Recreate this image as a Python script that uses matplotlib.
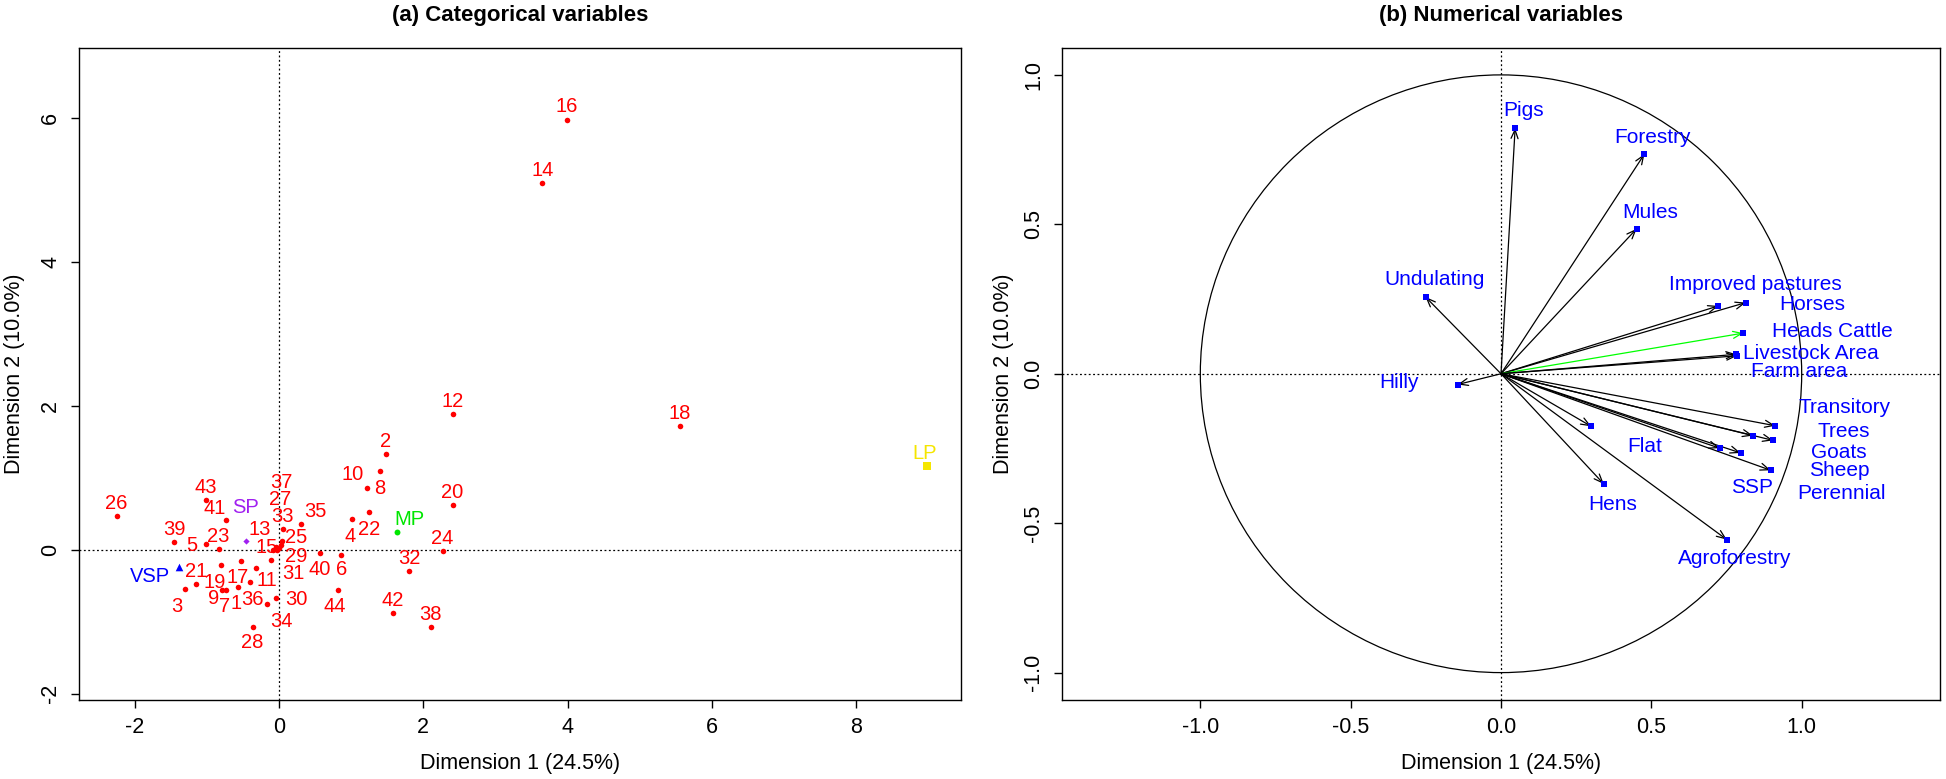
import matplotlib
matplotlib.use("Agg")
import matplotlib.pyplot as plt
from matplotlib.patches import Circle

plt.rcParams["font.family"] = ["Liberation Sans", "DejaVu Sans"]

# ---- (a) individuals (farms) on dims 1-2 ----
ind_labels = [str(i) for i in range(1, 45)]
ind_x = [-0.572, 1.48, -1.298, 1.007, -1.015, 0.854, -0.738, 1.214, -0.794, 1.399,
         -0.323, 2.41, -0.088, 3.65, -0.046, 3.99, -0.526, 5.554, -0.803, 2.406,
         -1.150, 1.251, -0.835, 2.267, 0.023, -2.248, 0.037, -0.365, -0.032, -0.046,
         -0.111, 1.805, 0.051, -0.166, 0.309, -0.402, 0.0, 2.101, -1.454, 0.568,
         -0.738, 1.574, -1.015, 0.821]
ind_y = [-0.518, 1.33, -0.546, 0.426, 0.074, -0.079, -0.565, 0.856, -0.556, 1.088,
         -0.255, 1.88, 0.0, 5.09, 0.037, 5.97, -0.157, 1.713, -0.213, 0.616,
         -0.481, 0.523, 0.009, -0.018, 0.069, 0.463, 0.125, -1.074, 0.0, -0.667,
         -0.148, -0.301, 0.282, -0.759, 0.356, -0.454, 0.023, -1.074, 0.107, -0.051,
         0.407, -0.880, 0.685, -0.565]

# supplementary categories
sup_labels = ["VSP", "SP", "MP", "LP"]
sup_x = [-1.381, -0.457, 1.630, 8.975]
sup_y = [-0.241, 0.125, 0.245, 1.158]
sup_colors = ["#0000FF", "#A020F0", "#00E600", "#F5E600"]
sup_markers = ["^", "D", "o", "s"]
sup_sizes = [30, 10, 18, 26]

# ---- (b) numerical variables (correlation circle) ----
num_labels = ["Pigs", "Forestry", "Mules", "Undulating", "Hilly", "Improved pastures",
              "Horses", "Heads Cattle", "Livestock Area", "Farm area", "Transitory",
              "Trees", "Goats", "Sheep", "Perennial", "SSP", "Flat", "Hens", "Agroforestry"]
num_x = [0.047, 0.477, 0.451, -0.251, -0.144, 0.723, 0.814, 0.806, 0.783, 0.785,
         0.912, 0.905, 0.838, 0.797, 0.897, 0.727, 0.300, 0.342, 0.751]
num_y = [0.822, 0.735, 0.485, 0.257, -0.036, 0.227, 0.238, 0.136, 0.065, 0.060,
         -0.174, -0.223, -0.207, -0.265, -0.323, -0.249, -0.176, -0.369, -0.555]

# label placement offsets in pixels (x right, y down), like autoLab did
ind_off = {"1": (-2, 16), "3": (-8, 17), "4": (-1, 17), "5": (-14, 1), "6": (1, 14),
           "7": (-1, 16), "8": (13, 0), "9": (-8, 9), "10": (-27, 3), "11": (11, 12),
           "13": (-13, -20), "15": (-9, 0), "17": (-3, 16), "19": (-6, 17), "22": (0, 17),
           "25": (16, -7), "27": (-1, -41), "28": (0, 15), "29": (20, 7), "30": (21, 2),
           "31": (22, 13), "34": (15, 17), "35": (14, -13), "36": (3, 17), "37": (2, -66),
           "40": (0, 16), "41": (-11, -12), "44": (-3, 16)}
sup_off = {"VSP": (-29, 9), "SP": (0, -33), "MP": (13, -13), "LP": (-2, -13)}
num_off = {"Pigs": (8, -18), "Forestry": (8, -17), "Mules": (14, -16), "Undulating": (9, -17),
           "Hilly": (-59, -2), "Improved pastures": (37, -21), "Horses": (66, 2),
           "Heads Cattle": (89, -2), "Livestock Area": (74, -1), "Farm area": (62, 16),
           "Transitory": (69, -18), "Trees": (71, -9), "Goats": (86, 17), "Sheep": (99, 18),
           "Perennial": (71, 23), "SSP": (32, 39), "Flat": (53, 20), "Hens": (9, 20),
           "Agroforestry": (8, 19)}

W, H = 1946, 779
PX = 72 / 100  # points per pixel at dpi 100
fig = plt.figure(figsize=(W / 100, H / 100), dpi=100)
ax1 = fig.add_axes([79 / W, 1 - 699.5 / H, 882 / W, 651.5 / H])
ax2 = fig.add_axes([1062 / W, 1 - 699.5 / H, 878 / W, 651.5 / H])

dot = (0, (1.5, 2))
lbl_fs = 14.5
tick_fs = 15.5

# (a)
ax1.axhline(0, color="black", lw=0.9, ls=dot, zorder=1)
ax1.axvline(0, color="black", lw=0.9, ls=dot, zorder=1)
ax1.scatter(ind_x, ind_y, s=16, color="#FF0000", zorder=3, linewidths=0)
for lab, x, y in zip(ind_labels, ind_x, ind_y):
    dx, dy = ind_off.get(lab, (0, -13))
    ax1.annotate(lab, (x, y), xytext=(dx * PX, -dy * PX), textcoords="offset points",
                 ha="center", va="center", color="#FF0000", fontsize=lbl_fs)
for lab, x, y, c, m, s in zip(sup_labels, sup_x, sup_y, sup_colors, sup_markers, sup_sizes):
    ax1.scatter([x], [y], marker=m, s=s, color=c, zorder=3, linewidths=0)
    dx, dy = sup_off[lab]
    ax1.annotate(lab, (x, y), xytext=(dx * PX, -dy * PX), textcoords="offset points",
                 ha="center", va="center", color=c, fontsize=lbl_fs)
ax1.set_xlim(-2.77, 9.45)
ax1.set_ylim(-2.08, 6.97)
ax1.set_xticks([-2, 0, 2, 4, 6, 8])
ax1.set_xticklabels(["-2", "0", "2", "4", "6", "8"])
ax1.set_yticks([-2, 0, 2, 4, 6])
ax1.set_yticklabels(["-2", "0", "2", "4", "6"], rotation=90, va="center")

# (b)
ax2.axhline(0, color="black", lw=0.9, ls=dot, zorder=1)
ax2.axvline(0, color="black", lw=0.9, ls=dot, zorder=1)
ax2.add_patch(Circle((0, 0), 1, fill=False, lw=0.9, color="black"))
for lab, x, y in zip(num_labels, num_x, num_y):
    col = "#00FF00" if lab == "Heads Cattle" else "black"
    ax2.annotate("", xy=(x, y), xytext=(0, 0),
                 arrowprops=dict(arrowstyle="->,head_length=0.45,head_width=0.18",
                                 lw=0.9, color=col, shrinkA=0, shrinkB=0,
                                 mutation_scale=14), zorder=2)
ax2.scatter(num_x, num_y, marker="s", s=22, color="#0000FF", zorder=3, linewidths=0)
for lab, x, y in zip(num_labels, num_x, num_y):
    dx, dy = num_off[lab]
    ax2.annotate(lab, (x, y), xytext=(dx * PX, -dy * PX), textcoords="offset points",
                 ha="center", va="center", color="#0000FF", fontsize=15)
ax2.set_xlim(-1.46, 1.46)
ax2.set_ylim(-1.09, 1.09)
ax2.set_xticks([-1, -0.5, 0, 0.5, 1])
ax2.set_xticklabels(["-1.0", "-0.5", "0.0", "0.5", "1.0"])
ax2.set_yticks([-1, -0.5, 0, 0.5, 1])
ax2.set_yticklabels(["-1.0", "-0.5", "0.0", "0.5", "1.0"], rotation=90, va="center")

titles = ["(a) Categorical variables", "(b) Numerical variables"]
for ax, t in zip([ax1, ax2], titles):
    for sp in ax.spines.values():
        sp.set_linewidth(1.0)
    ax.tick_params(direction="out", length=5.8, width=1, labelsize=tick_fs, pad=7)
    ax.set_xlabel("Dimension 1 (24.5%)", fontsize=tick_fs)
    ax.set_ylabel("Dimension 2 (10.0%)", fontsize=tick_fs)
    ax.xaxis.set_label_coords(0.5, -63.5 / 651.5)
    ax.xaxis.label.set_va("center")
    ax.text(0.5, 1 + 33 / 651.5, t, transform=ax.transAxes, ha="center", va="center",
            fontsize=16, fontweight="bold")
ax1.yaxis.set_label_coords(-64 / 882, 0.5)
ax2.yaxis.set_label_coords(-59 / 878, 0.5)
ax1.yaxis.label.set_va("center")
ax2.yaxis.label.set_va("center")

fig.savefig("out.png", dpi=100)
